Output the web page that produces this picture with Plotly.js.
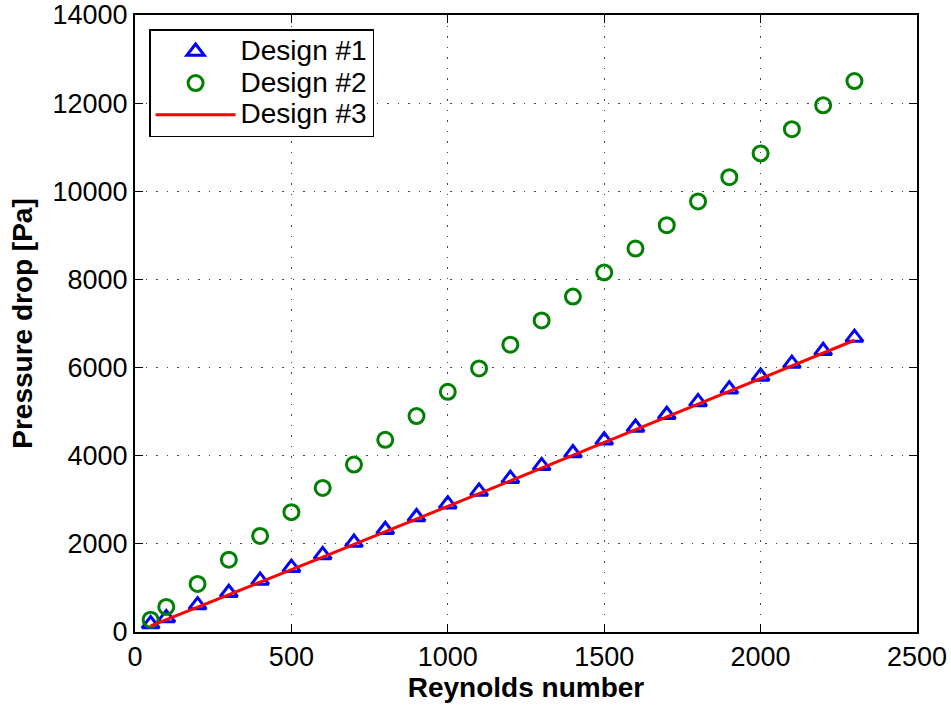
<!DOCTYPE html>
<html><head><meta charset="utf-8">
<script src="https://cdn.plot.ly/plotly-3.0.1.min.js"></script>
<style>html,body{margin:0;padding:0;background:#fff}</style>
</head><body><div id="chart" style="width:951px;height:707px"></div>
<script>
const reynolds = [50,100,200,300,400,500,600,700,800,900,1000,1100,1200,1300,1400,1500,1600,1700,1800,1900,2000,2100,2200,2300];
const design1 = [180,320,610,890,1170,1460,1750,2030,2320,2610,2900,3190,3480,3770,4060,4350,4640,4930,5220,5510,5800,6090,6380,6680];
const design2 = [280,570,1090,1640,2180,2720,3270,3800,4360,4900,5450,5980,6520,7070,7610,8160,8700,9230,9770,10320,10860,11410,11950,12500];
const design3 = [140,280,560,845,1130,1415,1700,1985,2270,2560,2850,3140,3430,3720,4005,4295,4585,4875,5165,5455,5745,6035,6325,6620];
const seriesNames = ['Design #1','Design #2','Design #3'];
const xTicks = [0,500,1000,1500,2000,2500];
const yTicks = [0,2000,4000,6000,8000,10000,12000,14000];

const FONT = 'Liberation Sans, Arial, Helvetica, sans-serif';
const legName = n => '<span style="font-size:28px">' + n + '</span>';
const traces = [
  {x: reynolds, y: design1, name: legName(seriesNames[0]), mode: 'markers', type: 'scatter',
   marker: {symbol: 'triangle-up-open', size: 15, color: '#0000ff', line: {width: 3, color: '#0000ff'}}},
  {x: reynolds, y: design2, name: legName(seriesNames[1]), mode: 'markers', type: 'scatter',
   marker: {symbol: 'circle-open', size: 15, color: '#008000', line: {width: 3, color: '#008000'}}},
  {x: reynolds, y: design3, name: legName(seriesNames[2]), mode: 'lines', type: 'scatter',
   line: {color: '#ff0000', width: 3}}
];
const axisCommon = {
  showline: true, linecolor: '#000', linewidth: 2, mirror: 'ticks',
  ticks: 'inside', ticklen: 8, tickcolor: '#000', tickwidth: 1,
  showgrid: true, gridcolor: '#444', griddash: '1.5px,9px', gridwidth: 1.2,
  zeroline: false, tickformat: 'd',
  tickfont: {family: FONT, size: 27, color: '#000'}
};
const layout = {
  width: 951, height: 707,
  margin: {l: 135, r: 34, t: 15, b: 75},
  paper_bgcolor: '#fff', plot_bgcolor: '#fff',
  showlegend: true,
  legend: {x: 0.018, y: 0.977, xanchor: 'left', yanchor: 'top', bgcolor: '#fff',
    bordercolor: '#000', borderwidth: 1.5,
    font: {family: FONT, size: 22, color: '#000'},
    tracegroupgap: 0, itemwidth: 80},
  xaxis: Object.assign({}, axisCommon, {range: [0, 2500], tickvals: xTicks, automargin: false,
    title: {text: '<b>Reynolds number</b>', standoff: 4, font: {family: FONT, size: 28, color: '#000'}}}),
  yaxis: Object.assign({}, axisCommon, {range: [0, 14000], tickvals: yTicks, automargin: false,
    title: {text: '<b>Pressure drop [Pa]</b>', standoff: 12, font: {family: FONT, size: 28, color: '#000'}}})
};
Plotly.newPlot('chart', traces, layout, {displayModeBar: false, staticPlot: true});
</script></body></html>
